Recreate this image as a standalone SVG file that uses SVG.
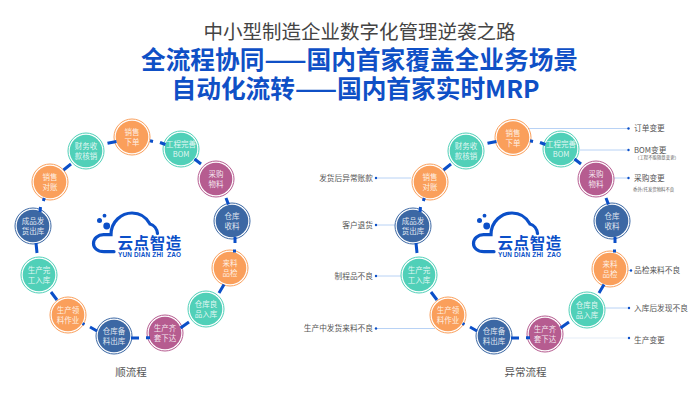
<svg xmlns="http://www.w3.org/2000/svg" width="700" height="400" viewBox="0 0 700 400">
<style>
text{font-family:"Noto Sans CJK SC","Liberation Sans",sans-serif}
.ring{fill:#fff;stroke:currentColor;stroke-width:1}
.disc{fill:currentColor}
.nt{font-size:7.5px;fill:#fff;fill-opacity:.85;text-anchor:middle}
.o{color:#FA9F5B}
.t{color:#50D0B8}
.p{color:#B65C90}
.b{color:#3C68A4}
.c{stroke:#0B4FC8;stroke-width:3;fill:none}
.lead{stroke:#A6C6F2;stroke-width:.8;fill:none}
.dot{fill:#0B4FC8}
.lab{font-size:7.7px;fill:#555}
.labr{font-size:7.7px;fill:#555;text-anchor:end}
.sub{font-size:4.4px;fill:#666}
.cap{font-size:10.5px;fill:#555;text-anchor:middle}
.lc{fill:none;stroke:#0B4FC8;stroke-width:3.2;stroke-linecap:round}
.lf{fill:#0B4FC8}
.lt{font-size:15.5px;font-weight:700;fill:#0B4FC8;letter-spacing:.6px}
.ls{font-size:6.4px;font-weight:700;fill:#0B4FC8;font-family:"Liberation Sans",sans-serif}
</style>
<defs>
<circle id="ring" class="ring" r="18"/>
<circle id="disc" class="disc" r="16.3"/>
<g id="logo">
<path class="lc" d="M114,251.7H104C97,251.7 93.5,247.5 93.5,243.5C93.5,238.5 98,234.7 103.5,234.7L111,234.7C111,221 122,213 132,213C141,213 147,218.5 150,224C154,225 157,229 157.5,233.5"/>
<circle class="lf" cx="106.7" cy="226" r="3.4"/>
<circle class="lf" cx="99.5" cy="220.5" r="2.5"/>
<circle class="lf" cx="104.5" cy="215.7" r="1.9"/>
<text class="lt" x="117.5" y="248.5">云点智造</text>
<text class="ls" x="118" y="257" textLength="63" xml:space="preserve">YUN DIAN ZHI  ZAO</text>
</g>
</defs>
<g id="title">
<text x="359.500" y="39" font-size="19.5" fill="#444" text-anchor="middle">中小型制造企业数字化管理逆袭之路</text>
<text x="359.500" y="68.5" font-size="24.7" font-weight="700" fill="#0F50C6" text-anchor="middle">全流程协同——国内首家覆盖全业务场景</text>
<text x="355.500" y="97.5" font-size="24.7" font-weight="700" fill="#0F50C6" text-anchor="middle">自动化流转——国内首家实时MRP</text>
</g>
<g id="logo-left"><use href="#logo"/></g>
<g id="logo-right"><use href="#logo" x="380"/></g>
<g id="leaders">
<path class="lead" d="M528,128.500H628M580,150H628M614,178H628M628,270.500H631M605,308H629M411,178H376M395,225H376M401,276H376M435,328.500H376"/>
<path d="M563,338H629" stroke="#E6EDF8" stroke-width="1.200" fill="none"/>
<circle class="dot" cx="628.500" cy="128.500" r="1.200"/><circle class="dot" cx="628.500" cy="150" r="1.200"/><circle class="dot" cx="628.500" cy="178" r="1.200"/><circle class="dot" cx="631" cy="270.500" r="1.200"/><circle class="dot" cx="629" cy="308" r="1.200"/><circle class="dot" cx="629" cy="338" r="1.200"/><circle class="dot" cx="376" cy="178" r="1.200"/><circle class="dot" cx="376" cy="225" r="1.200"/><circle class="dot" cx="376" cy="276" r="1.200"/><circle class="dot" cx="376" cy="328.500" r="1.200"/>
</g>
<g id="left-nodes">
<g id="l1" class="o" transform="translate(132,137)"><use href="#ring"/><use href="#disc"/><text class="nt" y="-2">销售</text><text class="nt" y="8">下单</text></g>
<g id="l2" class="t" transform="translate(181,149)"><use href="#ring"/><use href="#disc"/><text class="nt" y="-2">工程完善</text><text class="nt" y="8">BOM</text></g>
<g id="l3" class="p" transform="translate(216,179)"><use href="#ring"/><use href="#disc"/><text class="nt" y="-2">采购</text><text class="nt" y="8">物料</text></g>
<g id="l4" class="b" transform="translate(232,221)"><use href="#ring"/><use href="#disc"/><text class="nt" y="-2">仓库</text><text class="nt" y="8">收料</text></g>
<g id="l5" class="o" transform="translate(230,268)"><use href="#ring"/><use href="#disc"/><text class="nt" y="-2">来料</text><text class="nt" y="8">品检</text></g>
<g id="l6" class="t" transform="translate(206,309)"><use href="#ring"/><use href="#disc"/><text class="nt" y="-2">仓库良</text><text class="nt" y="8">品入库</text></g>
<g id="l7" class="p" transform="translate(165,333)"><use href="#ring"/><use href="#disc"/><text class="nt" y="-2">生产齐</text><text class="nt" y="8">套下达</text></g>
<g id="l8" class="b" transform="translate(114,336)"><use href="#ring"/><use href="#disc"/><text class="nt" y="-2">仓库备</text><text class="nt" y="8">料出库</text></g>
<g id="l9" class="o" transform="translate(68,315)"><use href="#ring"/><use href="#disc"/><text class="nt" y="-2">生产领</text><text class="nt" y="8">料作业</text></g>
<g id="l10" class="t" transform="translate(39,275)"><use href="#ring"/><use href="#disc"/><text class="nt" y="-2">生产完</text><text class="nt" y="8">工入库</text></g>
<g id="l11" class="b" transform="translate(33,226)"><use href="#ring"/><use href="#disc"/><text class="nt" y="-2">成品发</text><text class="nt" y="8">货出库</text></g>
<g id="l12" class="o" transform="translate(50,182)"><use href="#ring"/><use href="#disc"/><text class="nt" y="-2">销售</text><text class="nt" y="8">对账</text></g>
<g id="l13" class="t" transform="translate(86,151)"><use href="#ring"/><use href="#disc"/><text class="nt" y="-2">财务收</text><text class="nt" y="8">款核销</text></g>
</g>
<g id="right-nodes">
<g id="r1" class="o" transform="translate(513,137.500)"><use href="#ring"/><use href="#disc"/><text class="nt" y="-2">销售</text><text class="nt" y="8">下单</text></g>
<g id="r2" class="t" transform="translate(561,149)"><use href="#ring"/><use href="#disc"/><text class="nt" y="-2">工程完善</text><text class="nt" y="8">BOM</text></g>
<g id="r3" class="p" transform="translate(596,179)"><use href="#ring"/><use href="#disc"/><text class="nt" y="-2">采购</text><text class="nt" y="8">物料</text></g>
<g id="r4" class="b" transform="translate(612,221)"><use href="#ring"/><use href="#disc"/><text class="nt" y="-2">仓库</text><text class="nt" y="8">收料</text></g>
<g id="r5" class="o" transform="translate(610,269)"><use href="#ring"/><use href="#disc"/><text class="nt" y="-2">来料</text><text class="nt" y="8">品检</text></g>
<g id="r6" class="t" transform="translate(587,310)"><use href="#ring"/><use href="#disc"/><text class="nt" y="-2">仓库良</text><text class="nt" y="8">品入库</text></g>
<g id="r7" class="p" transform="translate(545,334)"><use href="#ring"/><use href="#disc"/><text class="nt" y="-2">生产齐</text><text class="nt" y="8">套下达</text></g>
<g id="r8" class="b" transform="translate(494,336)"><use href="#ring"/><use href="#disc"/><text class="nt" y="-2">仓库备</text><text class="nt" y="8">料出库</text></g>
<g id="r9" class="o" transform="translate(448,315)"><use href="#ring"/><use href="#disc"/><text class="nt" y="-2">生产领</text><text class="nt" y="8">料作业</text></g>
<g id="r10" class="t" transform="translate(419,275)"><use href="#ring"/><use href="#disc"/><text class="nt" y="-2">生产完</text><text class="nt" y="8">工入库</text></g>
<g id="r11" class="b" transform="translate(413,226)"><use href="#ring"/><use href="#disc"/><text class="nt" y="-2">成品发</text><text class="nt" y="8">货出库</text></g>
<g id="r12" class="o" transform="translate(430,182)"><use href="#ring"/><use href="#disc"/><text class="nt" y="-2">销售</text><text class="nt" y="8">对账</text></g>
<g id="r13" class="t" transform="translate(466,151)"><use href="#ring"/><use href="#disc"/><text class="nt" y="-2">财务收</text><text class="nt" y="8">款核销</text></g>
</g>
<g id="connectors">
<path id="conn" class="c" d="M150,140.800L153,141.500M160,142.500L165.500,144.500M194.500,159L201,164M226,198L228.500,204.500M235,237V243M234.500,249.500V252.500M224,284.500L219,293M189,322L180.500,328M131,338H139M146,337.800H150M97,331L90,327M84.500,324.500L82.500,323.500M57,300L51,292M36,243L37,253M40.500,207L40,212M44.300,198L43.300,201M63.500,170L71,164M107.500,143.300L116.500,141.500"/>
<use href="#conn" x="380"/>
</g>
<g id="labels">
<text class="lab" x="634" y="131">订单变更</text>
<text class="lab" x="634" y="152.500">BOM变更</text>
<text class="sub" x="635" y="158.500">（工程不能随意变更）</text>
<text class="lab" x="634" y="181">采购变更</text>
<text class="sub" x="633" y="190.500">委外/托发货物料不良</text>
<text class="lab" x="634" y="273">品检来料不良</text>
<text class="lab" x="634" y="311">入库后发现不良</text>
<text class="lab" x="634" y="343">生产变更</text>
<text class="labr" x="373" y="181">发货后异常账款</text>
<text class="labr" x="373" y="228">客户退货</text>
<text class="labr" x="373" y="279">制程品不良</text>
<text class="labr" x="373" y="331">生产中发货来料不良</text>
<text class="cap" x="131" y="375.500">顺流程</text>
<text class="cap" x="525.500" y="375.500">异常流程</text>
</g>
</svg>
